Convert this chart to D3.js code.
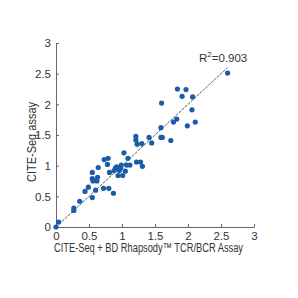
<!DOCTYPE html>
<html>
<head>
<meta charset="utf-8">
<script src="https://cdn.jsdelivr.net/npm/d3@7"></script>
<style>
  body { margin: 0; background: #fff; }
  text { font-family: "Liberation Sans", Arial, sans-serif; fill: #333; }
</style>
</head>
<body>
<svg id="chart" width="298" height="298"></svg>
<script>
// data
var xVals = [0, 0.04, 0.27, 0.27, 0.36, 0.44, 0.49, 0.55, 0.55, 0.55, 0.56, 0.60, 0.62, 0.63, 0.64,
             0.72, 0.73, 0.78, 0.79, 0.80, 0.81, 0.87, 0.88, 0.90, 0.92, 0.94, 0.96, 0.98, 0.99,
             1.01, 1.03, 1.05, 1.07, 1.09, 1.12, 1.21, 1.21, 1.23, 1.22, 1.28, 1.30, 1.31,
             1.41, 1.45, 1.59, 1.59, 1.61, 1.60, 1.74, 1.78, 1.83, 1.84, 1.91, 1.97, 1.99,
             2.06, 2.07, 2.11, 2.60];
var yVals = [0, 0.08, 0.27, 0.31, 0.42, 0.58, 0.65, 0.48, 0.89, 0.79, 0.75, 0.60, 0.75, 0.81, 0.97,
             0.63, 1.10, 1.02, 1.12, 0.63, 0.89, 0.55, 0.92, 0.96, 0.98, 0.84, 0.92, 0.96, 1.01,
             0.84, 1.21, 0.91, 1.01, 1.12, 1.01, 1.48, 1.42, 1.35, 1.06, 1.06, 1.36, 0.99,
             1.46, 1.37, 1.62, 1.46, 1.46, 2.02, 1.41, 1.71, 1.76, 2.25, 2.13, 2.24, 1.65,
             1.91, 2.12, 1.71, 2.51];
var ticks = [0, 0.5, 1, 1.5, 2, 2.5, 3];
var fitLine = [0, 2.6];
var rSquared = "0.903";

var svg = d3.select("#chart");

var x = d3.scaleLinear().domain([0, 3]).range([56, 254]);
var y = d3.scaleLinear().domain([0, 3]).range([227, 43]);

// x axis
svg.append("g")
    .attr("transform", "translate(0," + y(0) + ")")
    .call(d3.axisBottom(x).tickValues(ticks).tickSizeInner(-3).tickSizeOuter(0).tickPadding(5)
      .tickFormat(function(d) { return d; }));

// y axis
svg.append("g")
    .attr("transform", "translate(" + x(0) + ",0)")
    .call(d3.axisLeft(y).tickValues(ticks).tickSizeInner(-3).tickSizeOuter(0).tickPadding(5)
      .tickFormat(function(d) { return d; }));

svg.selectAll(".domain").attr("stroke", "#666").attr("stroke-width", 1);
svg.selectAll(".tick line").attr("stroke", "#666");
svg.selectAll(".tick text").attr("font-size", 11.5).attr("fill", "#222")
    .attr("font-family", "Liberation Sans, Arial, sans-serif");

// fit line
svg.append("line")
    .attr("x1", x(fitLine[0])).attr("y1", y(fitLine[0]))
    .attr("x2", x(fitLine[1])).attr("y2", y(fitLine[1]))
    .attr("stroke", "#333")
    .attr("stroke-width", 0.8)
    .attr("stroke-dasharray", "3,1");

// points
svg.append("g").selectAll("circle")
    .data(xVals)
  .enter().append("circle")
    .attr("cx", function(d) { return x(d); })
    .attr("cy", function(d, i) { return y(yVals[i]); })
    .attr("r", 2.6)
    .attr("fill", "#1a5ca8");

// titles
svg.append("text")
    .attr("x", 54).attr("y", 252)
    .attr("font-size", 12.5)
    .attr("textLength", 189)
    .attr("lengthAdjust", "spacingAndGlyphs")
    .text("CITE-Seq + BD Rhapsody\u2122 TCR/BCR Assay");

svg.append("text")
    .attr("transform", "translate(36,182) rotate(-90)")
    .attr("font-size", 12.5)
    .attr("textLength", 80)
    .attr("lengthAdjust", "spacingAndGlyphs")
    .text("CITE-Seq assay");

var r2 = svg.append("text")
    .attr("x", 199).attr("y", 62)
    .attr("font-size", 11.5);
r2.append("tspan").text("R");
r2.append("tspan").attr("dy", -5).attr("font-size", 8).text("2");
r2.append("tspan").attr("dy", 5).text("=" + rSquared);
</script>
</body>
</html>
